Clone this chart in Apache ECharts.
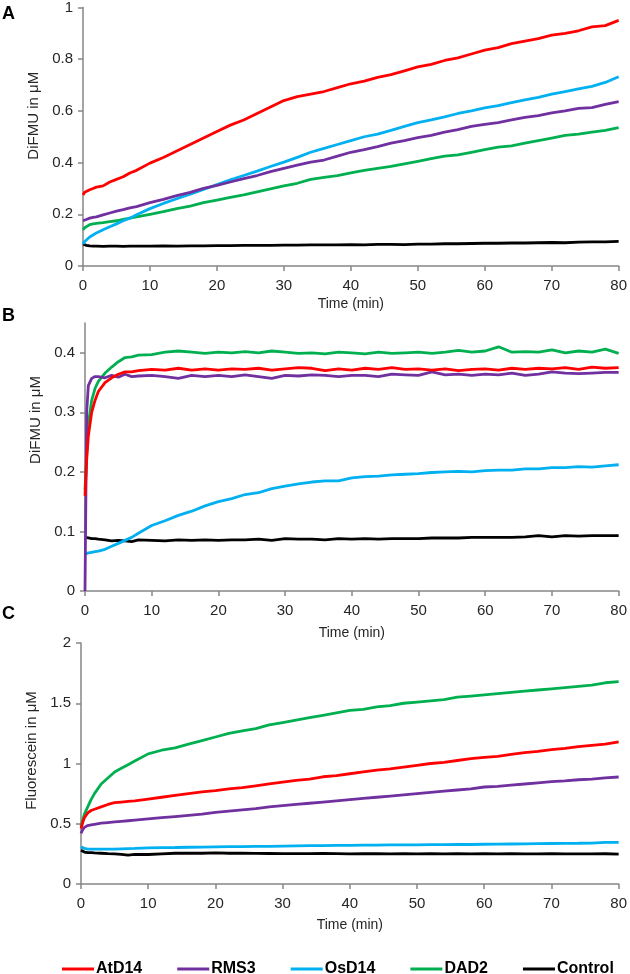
<!DOCTYPE html>
<html><head><meta charset="utf-8">
<script src="https://cdn.jsdelivr.net/npm/echarts@6/dist/echarts.min.js"></script>
<style>html,body{margin:0;padding:0;background:#fff}#c{width:630px;height:974px}</style>
</head><body><div id="c"></div>
<script>
// time points (min)
const time = [0,0.25,0.5,1,1.5,2,3,4,5,6,7,8,10,12,14,16,18,20,22,24,26,28,30,32,34,36,38,40,42,44,46,48,50,52,54,56,58,60,62,64,66,68,70,72,74,76,78,80];
const seriesNames = ['AtD14','RMS3','OsD14','DAD2','Control'];
const seriesColors = ['#ff0000','#7030a0','#00b0f0','#00b050','#000000'];
const panelLabels = ['A','B','C'];
const yTitles = ['DiFMU in μM','DiFMU in μM','Fluorescein in μM'];
const xTitle = 'Time (min)';
const xTicks = [0,10,20,30,40,50,60,70,80];
const yTicksA = [0,0.2,0.4,0.6,0.8,1];
const yTicksB = [0,0.1,0.2,0.3,0.4];
const yTicksC = [0,0.5,1,1.5,2];

// Panel A
const aAtD14 = [0.275,0.285,0.29,0.295,0.30,0.305,0.31,0.325,0.335,0.345,0.36,0.37,0.398,0.42,0.445,0.47,0.495,0.52,0.545,0.565,0.59,0.615,0.64,0.655,0.665,0.675,0.69,0.705,0.715,0.73,0.74,0.755,0.77,0.78,0.795,0.805,0.82,0.835,0.845,0.86,0.87,0.88,0.893,0.9,0.91,0.925,0.93,0.95];
const aRMS3 = [0.175,0.178,0.18,0.185,0.188,0.19,0.198,0.205,0.212,0.218,0.225,0.23,0.245,0.258,0.272,0.285,0.3,0.312,0.325,0.338,0.35,0.365,0.378,0.39,0.402,0.41,0.425,0.44,0.45,0.462,0.475,0.485,0.497,0.505,0.518,0.528,0.54,0.548,0.555,0.565,0.575,0.582,0.592,0.6,0.61,0.613,0.625,0.636];
const aOsD14 = [0.085,0.095,0.102,0.112,0.12,0.128,0.14,0.152,0.163,0.175,0.185,0.198,0.222,0.242,0.26,0.278,0.296,0.315,0.333,0.35,0.367,0.385,0.402,0.42,0.44,0.455,0.47,0.485,0.5,0.51,0.525,0.54,0.555,0.565,0.577,0.59,0.6,0.612,0.62,0.632,0.643,0.652,0.665,0.675,0.685,0.695,0.71,0.732];
const aDAD2 = [0.14,0.148,0.155,0.16,0.163,0.165,0.168,0.172,0.175,0.18,0.185,0.19,0.2,0.21,0.222,0.232,0.245,0.255,0.265,0.275,0.287,0.298,0.31,0.32,0.335,0.343,0.35,0.36,0.37,0.378,0.385,0.395,0.405,0.415,0.425,0.43,0.44,0.45,0.46,0.465,0.475,0.485,0.495,0.505,0.51,0.518,0.525,0.535];
const aControl = [0.085,0.082,0.08,0.078,0.077,0.077,0.076,0.077,0.077,0.076,0.077,0.077,0.077,0.078,0.077,0.078,0.078,0.079,0.079,0.08,0.08,0.08,0.081,0.081,0.082,0.082,0.082,0.083,0.082,0.084,0.084,0.083,0.085,0.085,0.086,0.086,0.087,0.088,0.088,0.089,0.089,0.09,0.091,0.09,0.092,0.093,0.093,0.095];

// Panel B
const bAtD14 = [0.16,0.22,0.26,0.3,0.32,0.335,0.35,0.358,0.364,0.368,0.368,0.37,0.372,0.371,0.374,0.371,0.373,0.371,0.373,0.372,0.374,0.371,0.373,0.375,0.374,0.37,0.373,0.371,0.374,0.372,0.375,0.372,0.373,0.371,0.373,0.37,0.372,0.373,0.371,0.374,0.372,0.374,0.373,0.375,0.372,0.376,0.374,0.375];
const bRMS3 = [0.0,0.3,0.345,0.357,0.36,0.36,0.358,0.362,0.359,0.364,0.36,0.361,0.362,0.36,0.357,0.362,0.36,0.362,0.36,0.363,0.36,0.357,0.362,0.361,0.363,0.362,0.36,0.362,0.362,0.36,0.364,0.363,0.362,0.368,0.363,0.364,0.362,0.364,0.363,0.366,0.362,0.364,0.368,0.366,0.365,0.366,0.367,0.367];
const bOsD14 = [0.062,0.063,0.064,0.065,0.066,0.067,0.07,0.075,0.08,0.085,0.09,0.097,0.11,0.118,0.127,0.134,0.143,0.15,0.155,0.162,0.165,0.172,0.176,0.18,0.183,0.185,0.185,0.19,0.192,0.193,0.195,0.196,0.197,0.199,0.2,0.201,0.2,0.202,0.203,0.203,0.205,0.205,0.207,0.207,0.209,0.208,0.21,0.212];
const bDAD2 = [0.17,0.23,0.28,0.32,0.34,0.352,0.366,0.376,0.385,0.392,0.393,0.396,0.397,0.401,0.403,0.401,0.399,0.401,0.4,0.402,0.4,0.403,0.401,0.399,0.4,0.398,0.401,0.4,0.398,0.401,0.399,0.4,0.401,0.399,0.401,0.404,0.401,0.403,0.41,0.401,0.402,0.401,0.405,0.4,0.403,0.401,0.406,0.399];
const bControl = [0.09,0.09,0.089,0.088,0.088,0.087,0.086,0.084,0.085,0.084,0.083,0.086,0.085,0.084,0.086,0.085,0.086,0.085,0.086,0.086,0.087,0.085,0.088,0.087,0.087,0.086,0.088,0.087,0.088,0.087,0.088,0.088,0.088,0.089,0.089,0.089,0.09,0.09,0.09,0.09,0.091,0.093,0.091,0.093,0.092,0.093,0.093,0.093];

// Panel C
const cAtD14 = [0.46,0.51,0.55,0.59,0.61,0.62,0.64,0.66,0.675,0.68,0.685,0.69,0.705,0.72,0.735,0.75,0.765,0.775,0.79,0.8,0.815,0.83,0.845,0.86,0.87,0.89,0.9,0.915,0.93,0.945,0.955,0.97,0.985,1.0,1.01,1.025,1.04,1.05,1.06,1.075,1.09,1.1,1.115,1.125,1.14,1.15,1.16,1.18];
const cRMS3 = [0.42,0.45,0.47,0.485,0.49,0.495,0.505,0.51,0.515,0.52,0.525,0.53,0.54,0.55,0.56,0.57,0.58,0.595,0.605,0.615,0.625,0.64,0.65,0.66,0.67,0.68,0.69,0.7,0.71,0.72,0.73,0.74,0.75,0.76,0.77,0.78,0.79,0.805,0.81,0.82,0.83,0.84,0.85,0.855,0.865,0.87,0.88,0.888];
const cOsD14 = [0.31,0.3,0.295,0.29,0.29,0.29,0.29,0.29,0.29,0.292,0.294,0.295,0.3,0.302,0.303,0.305,0.306,0.308,0.31,0.31,0.312,0.313,0.315,0.317,0.318,0.318,0.32,0.32,0.322,0.322,0.324,0.324,0.325,0.326,0.327,0.328,0.328,0.33,0.331,0.332,0.333,0.335,0.336,0.337,0.338,0.34,0.345,0.345];
const cDAD2 = [0.48,0.53,0.58,0.64,0.7,0.75,0.83,0.88,0.93,0.96,0.99,1.02,1.08,1.11,1.13,1.16,1.19,1.22,1.25,1.27,1.29,1.32,1.34,1.36,1.38,1.4,1.42,1.44,1.45,1.47,1.48,1.5,1.51,1.52,1.53,1.55,1.56,1.57,1.58,1.59,1.6,1.61,1.62,1.63,1.64,1.65,1.67,1.68];
const cControl = [0.28,0.27,0.265,0.26,0.26,0.258,0.255,0.252,0.25,0.245,0.24,0.245,0.245,0.25,0.255,0.255,0.255,0.258,0.255,0.255,0.254,0.253,0.252,0.252,0.252,0.253,0.252,0.25,0.252,0.251,0.25,0.251,0.25,0.251,0.25,0.251,0.25,0.252,0.25,0.251,0.25,0.25,0.251,0.25,0.25,0.25,0.251,0.248];

const panels = [
  [aAtD14,aRMS3,aOsD14,aDAD2,aControl],
  [bAtD14,bRMS3,bOsD14,bDAD2,bControl],
  [cAtD14,cRMS3,cOsD14,cDAD2,cControl]
];
const yTicks = [yTicksA,yTicksB,yTicksC];

const FONT = 'Liberation Sans, Arial, sans-serif';
const AXIS_COLOR = '#868686';
const TEXT_COLOR = '#262626';

const grids = [
  {left:83, right:11, top:6, height:260},
  {left:85, right:10, top:323, height:268},
  {left:81, right:11, top:643, height:241}
];
const yMax = [1, 0.45, 2];
const nameGapX = [31, 35, 34];
const namePad = [42, 74, 26];

const xAxes = grids.map((g,i)=>({
  type:'value', gridIndex:i, min:0, max:80, interval:10,
  name:xTitle, nameLocation:'middle', nameGap:nameGapX[i],
  nameTextStyle:{fontFamily:FONT,fontSize:14,color:TEXT_COLOR},
  axisLine:{show:true,lineStyle:{color:AXIS_COLOR,width:1.5}},
  axisTick:{show:true,length:5,lineStyle:{color:AXIS_COLOR,width:1.5},customValues:xTicks},
  axisLabel:{fontFamily:FONT,fontSize:15,color:TEXT_COLOR,margin:12,customValues:xTicks},
  splitLine:{show:false}
}));
const yAxes = grids.map((g,i)=>({
  type:'value', gridIndex:i, min:0, max:yMax[i],
  name:yTitles[i], nameLocation:'middle', nameGap:42,
  nameTextStyle:{fontFamily:FONT,fontSize:15,color:TEXT_COLOR,padding:[0,0,0,namePad[i]]},
  axisLine:{show:true,lineStyle:{color:AXIS_COLOR,width:1.5}},
  axisTick:{show:true,length:5,lineStyle:{color:AXIS_COLOR,width:1.5},customValues:yTicks[i]},
  axisLabel:{fontFamily:FONT,fontSize:15,color:TEXT_COLOR,margin:10,customValues:yTicks[i]},
  splitLine:{show:false}
}));

const series = [];
panels.forEach((p,pi)=>{
  p.forEach((vals,si)=>{
    series.push({
      type:'line', name:seriesNames[si], xAxisIndex:pi, yAxisIndex:pi,
      data: time.map((t,k)=>[t, vals[k]]),
      showSymbol:false, symbol:'none', smooth:false,
      lineStyle:{color:seriesColors[si], width:2.8},
      itemStyle:{color:seriesColors[si]},
      z: 10 - si, animation:false, silent:true
    });
  });
});

const titleTops = [5, 307, 605];
const titles = panelLabels.map((t,i)=>({
  text:t, left:2, top:titleTops[i], padding:0,
  textStyle:{fontFamily:FONT,fontSize:18,fontWeight:'bold',color:'#000'}
}));

const chart = echarts.init(document.getElementById('c'), null, {renderer:'canvas'});
chart.setOption({
  animation:false,
  backgroundColor:'#fff',
  title: titles,
  grid: grids,
  xAxis: xAxes,
  yAxis: yAxes,
  legend:{
    data:seriesNames, left:62, top:961, itemGap:35, itemWidth:32, itemHeight:3,
    icon:'rect', padding:0,
    textStyle:{fontFamily:FONT,fontSize:16,fontWeight:'bold',color:'#000',padding:[0,0,0,-3]}
  },
  series: series
});
</script></body></html>
